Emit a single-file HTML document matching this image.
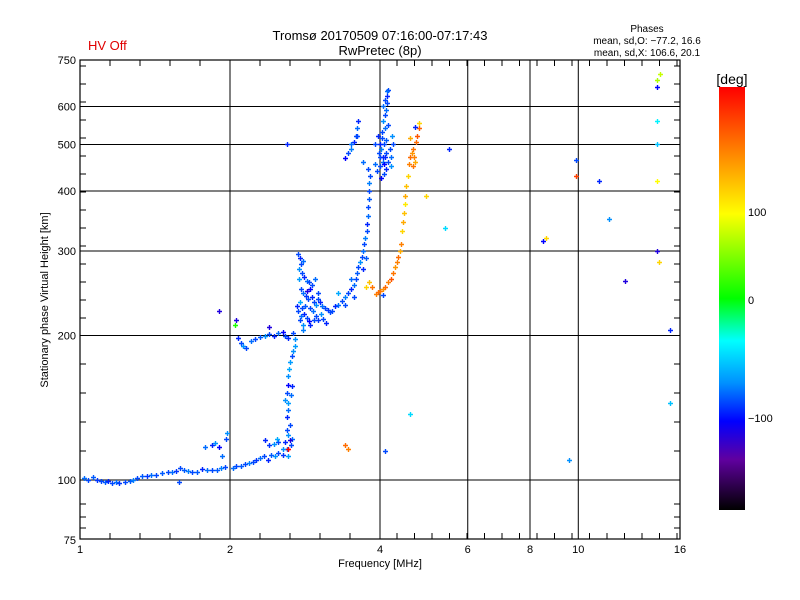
<!DOCTYPE html>
<html><head><meta charset="utf-8"><style>
body{margin:0;background:#fff}
svg{display:block;font-family:"Liberation Sans",sans-serif}
</style></head><body>
<svg id="chart" width="800" height="600" viewBox="0 0 800 600">
<defs><linearGradient id="cbar" x1="0" y1="0" x2="0" y2="1">
<stop offset="0" stop-color="#ff0000"/><stop offset="0.15" stop-color="#ff8000"/><stop offset="0.3" stop-color="#ffff00"/>
<stop offset="0.5" stop-color="#00ff00"/><stop offset="0.6" stop-color="#00ffff"/><stop offset="0.7" stop-color="#0090ff"/>
<stop offset="0.79" stop-color="#0000ff"/><stop offset="0.88" stop-color="#6000a0"/><stop offset="1" stop-color="#000000"/>
</linearGradient></defs>
<rect x="0" y="0" width="800" height="600" fill="#fff"/>
<text x="88" y="50" fill="#e00000" font-size="13">HV Off</text>
<text x="380" y="40" text-anchor="middle" font-size="13">Tromsø 20170509 07:16:00-07:17:43</text>
<text x="380" y="55" text-anchor="middle" font-size="13">RwPretec (8p)</text>
<text x="647" y="32" text-anchor="middle" font-size="10">Phases</text>
<text x="647" y="44" text-anchor="middle" font-size="10">mean, sd,O: −77.2, 16.6</text>
<text x="647" y="56" text-anchor="middle" font-size="10">mean, sd,X: 106.6, 20.1</text>
<g id="grid"></g>
<g id="ticks"></g>
<g id="marks"></g>
<rect x="80" y="60" width="600" height="479" fill="none" stroke="#000" stroke-width="1.2"/>
<text x="380" y="567" text-anchor="middle" font-size="11">Frequency [MHz]</text>
<text transform="translate(48,300) rotate(-90)" text-anchor="middle" font-size="11">Stationary phase Virtual Height [km]</text>
<rect x="719" y="87" width="26" height="423" fill="url(#cbar)"/>
<text x="732" y="84" text-anchor="middle" font-size="14">[deg]</text>
<text x="748" y="216" font-size="11">100</text>
<text x="748" y="304" font-size="11">0</text>
<text x="748" y="422" font-size="11">−100</text>
</svg>
<script>
const xTickValues=[1,2,4,6,8,10,16];
const xGridValues=[2,4,6,8,10];
const yTickValues=[75,100,200,300,400,500,600,750];
const yGridValues=[100,200,300,400,500,600];
const freqMHz=[1.02,1.04,1.06,1.08,1.10,1.12,1.14,1.16,1.18,1.20,1.23,1.26,1.28,1.30,1.33,1.36,1.39,1.42,1.46,1.50,1.53,1.56,1.59,1.62,1.65,1.68,1.72,1.76,1.80,1.84,1.88,1.92,1.95,1.58,
1.78,1.84,1.87,1.90,1.96,1.97,1.93,
2.03,2.06,2.1,2.14,2.18,2.22,2.26,2.3,2.34,2.38,2.42,2.46,2.5,2.55,2.6,2.62,2.65,2.58,2.5,2.45,2.4,2.35,2.48,2.62,2.66,2.64,2.64,2.6,2.61,2.62,2.58,2.6,2.61,2.62,2.63,2.64,2.66,2.67,2.7,2.66,2.65,2.6,2.55,2.62,
2.06,2.05,2.08,2.1,2.12,2.15,2.2,2.25,2.3,2.35,2.4,2.45,2.5,2.55,2.58,2.62,2.67,2.7,2.4,1.9,
2.74,2.76,2.78,2.8,2.75,2.79,2.82,2.85,2.75,2.88,2.9,2.78,2.8,2.84,2.87,2.92,2.95,2.98,3.0,3.03,3.06,3.1,3.14,3.17,2.76,2.79,2.82,2.85,2.88,2.9,2.94,2.97,3.0,3.04,3.08,3.12,2.76,2.8,2.86,2.92,2.96,3.0,2.83,2.9,2.95,2.78,2.74,2.8,2.72,
3.2,3.25,3.3,3.35,3.4,3.45,3.5,3.55,3.58,3.6,3.62,3.65,3.68,3.7,3.72,3.74,3.76,3.77,3.78,3.79,3.8,3.8,3.81,3.82,3.78,3.7,3.45,3.5,3.55,3.58,3.6,3.62,3.4,3.3,3.5,3.55,3.4,3.7,3.75,
3.95,4.0,4.05,4.1,3.98,4.02,4.08,4.12,3.96,4.04,4.1,4.15,4.06,4.1,4.12,4.13,4.14,4.15,4.14,4.02,4.08,4.12,4.15,4.2,4.18,4.0,3.9,3.9,4.22,4.25,4.05,4.03,4.12,4.2,4.0,4.08,4.05,4.1,
3.93,3.97,4.0,4.05,4.1,4.15,4.2,4.25,4.28,4.32,4.35,4.38,4.4,4.43,4.45,4.47,4.48,4.5,4.52,4.55,4.58,4.6,4.63,4.65,4.68,4.7,4.66,4.72,4.75,4.78,4.8,4.7,4.6,3.8,3.75,3.85,4.05,3.4,3.45,
5.5,5.4,8.5,8.6,9.9,9.9,11,11.5,12.4,14.4,14.4,14.4,14.4,14.4,14.5,15.3,15.3,9.6,4.6,4.1,2.6,3.5,3.6,4.95,14.4,14.6];
const heightKm=[101,100,101.5,100,99.5,99,99.5,98.5,99,98.5,99,99.5,100,101,102,102,102.5,102.5,103.5,104,104,104.5,106,105,104.5,104,104,105.5,105,105,105,106,106.5,99,
117,118,119.5,117,122,125,112,
106,107,107,108,108.5,109,110,111,112,110,113,112,114,113,116,112,118,120,120,119,118,121,122,124,122,121,130,135,140,145,147,152,158,165,170,176,181,186,190,157,150,127,116,116,
215,210,198,193,190,188,195,197,199,200,201,200,202,203,200,198,202,197,208,225,
295,290,282,286,275,270,265,260,262,258,250,250,245,242,238,240,235,232,238,235,230,228,226,224,235,228,222,218,214,210,225,220,215,222,216,212,215,210,248,255,262,245,230,228,215,220,225,205,230,
225,230,232,236,240,245,250,255,262,270,278,285,292,300,310,320,330,342,355,370,385,400,415,430,445,460,480,490,505,520,540,560,468,245,262,240,232,275,290,
440,450,460,470,480,490,500,510,520,530,540,550,560,575,590,610,630,650,645,425,435,445,460,470,490,470,455,500,520,500,470,515,480,450,500,455,600,620,
244,247,248,250,253,258,262,270,278,285,292,300,310,330,345,360,375,390,410,430,455,470,480,490,470,460,450,505,520,540,555,545,515,258,252,252,243,118,116,
490,335,315,320,465,430,420,350,260,680,660,500,420,300,285,205,145,110,137,115,500,500,520,390,560,700];
const phaseDeg=[-90,-100,-95,-105,-100,-95,-110,-100,-90,-105,-100,-95,-85,-100,-95,-105,-90,-100,-95,-100,-90,-105,-100,-95,-85,-100,-95,-110,-90,-100,-95,-85,-100,-100,
-90,-110,-80,-120,-100,-80,-90,
-90,-100,-95,-100,-85,-100,-105,-90,-100,-110,-95,-80,-100,-105,-90,-75,-100,-110,-100,-80,-105,-110,-70,-80,-90,-130,-100,-110,-90,-75,-80,-100,-120,-80,-70,-75,-100,-80,-75,-110,-90,-100,-80,180,
-130,10,-110,-100,-80,-100,-90,-100,-95,-80,-100,-110,-90,-120,-100,-110,-100,-80,-130,-130,
-100,-110,-100,-90,-80,-100,-110,-90,-75,-100,-120,-100,-90,-105,-100,-110,-100,-80,-100,-110,-90,-100,-105,-100,-70,-100,-110,-100,-120,-110,-90,-100,-105,-80,-100,-110,-100,-80,-130,-100,-90,-100,-95,-100,-100,-90,-100,-85,-110,
-100,-110,-90,-100,-85,-100,-110,-90,-100,-95,-100,-80,-100,-90,-100,-85,-100,-110,-90,-100,-95,-100,-85,-100,-100,-90,-100,-85,-110,-100,-90,-110,-120,-70,-90,-100,-100,-110,-95,
-100,-100,-90,-110,-100,-85,-100,-95,-110,-100,-90,-100,-80,-100,-90,-100,-110,-100,-90,-120,-100,-110,-100,-90,-100,-100,-90,-100,-80,-100,-110,-100,-100,-80,-110,-120,-90,-100,
120,130,125,115,130,120,140,125,115,120,130,110,120,100,110,105,95,110,105,100,120,130,115,125,120,110,125,130,140,135,100,-110,110,105,100,125,-100,130,120,
-110,-50,-120,100,-100,150,-110,-80,-130,60,-120,-60,90,-130,100,-110,-60,-80,-50,-100,-110,-90,-100,100,-40,70];

const X0=80,X1=680,YB=480,D=480;
const xs=f=>X0+(X1-X0)*Math.log2(f)/4;
const ys=h=>YB-D*Math.log10(h/100);
const NS='http://www.w3.org/2000/svg';
function mk(tag,attrs,parent){const e=document.createElementNS(NS,tag);for(const k in attrs)e.setAttribute(k,attrs[k]);parent.appendChild(e);return e;}
const grid=document.getElementById('grid'),ticks=document.getElementById('ticks'),marks=document.getElementById('marks'),svg=document.getElementById('chart');
xGridValues.forEach(v=>{const l=mk('line',{x1:xs(v),x2:xs(v),y1:60,y2:539,stroke:'#000','stroke-width':1},grid);

});
yGridValues.forEach(v=>{const l=mk('line',{x1:80,x2:680,y1:ys(v),y2:ys(v),stroke:'#000','stroke-width':1},grid);

});
xTickValues.forEach(v=>{const t=mk('text',{x:xs(v),y:553,'text-anchor':'middle','font-size':11},svg);t.textContent=v;

});
yTickValues.forEach(v=>{const t=mk('text',{x:76,y:ys(v)+4,'text-anchor':'end','font-size':11},svg);t.textContent=v;

});
const xm=[];for(let x=110;x<230;x+=30)xm.push(x);for(let x=260;x<380;x+=30)xm.push(x);for(let x=397;x<680;x+=17.5)xm.push(x);
xm.forEach(x=>{mk('line',{x1:x,x2:x,y1:539,y2:533,stroke:'#000'},ticks);mk('line',{x1:x,x2:x,y1:60,y2:66,stroke:'#000'},ticks);});
const ym=[504,517,528];for(let y=451;y>335;y-=29)ym.push(y);for(let y=318;y>60;y-=18)ym.push(y);
ym.forEach(y=>{mk('line',{x1:80,x2:86,y1:y,y2:y,stroke:'#000'},ticks);mk('line',{x1:680,x2:674,y1:y,y2:y,stroke:'#000'},ticks);});
const stops=[[-180,[0,0,0]],[-150,[96,0,160]],[-120,[0,0,255]],[-80,[0,144,255]],[-35,[0,255,255]],[0,[0,255,0]],[90,[255,255,0]],[120,[255,128,0]],[180,[255,0,0]]];
function col(p){for(let i=1;i<stops.length;i++){if(p<=stops[i][0]){const a=stops[i-1],b=stops[i],t=(p-a[0])/(b[0]-a[0]);
return 'rgb('+a[1].map((c,j)=>Math.round(c+(b[1][j]-c)*t)).join(',')+')';}}return 'rgb(255,0,0)';}
freqMHz.forEach((f,i)=>{const x=Math.round(xs(f)),y=Math.round(ys(heightKm[i]));
const p=mk('path',{d:`M${x-2} ${y+0.5}h5M${x+0.5} ${y-2}v5`,stroke:col(phaseDeg[i]),'stroke-width':1.4},marks);

});
</script>
</body></html>
